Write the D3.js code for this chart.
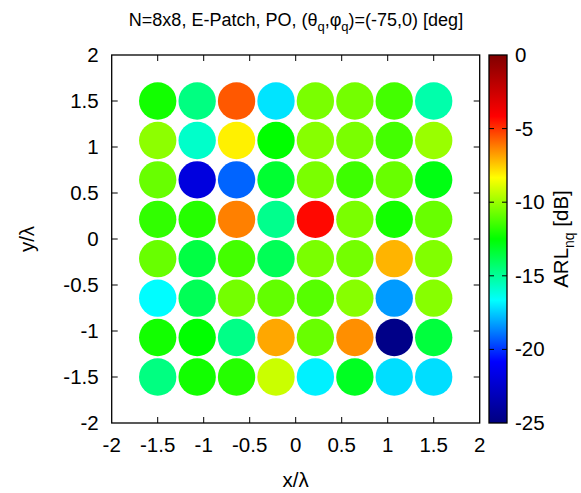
<!DOCTYPE html>
<html>
<head>
<meta charset="utf-8">
<script src="https://cdn.jsdelivr.net/npm/d3@7"></script>
<style>
  body { margin: 0; background: #fff; }
  svg { font-family: "Liberation Sans", Arial, sans-serif; }
</style>
</head>
<body>
<div id="chart"></div>
<script>
var WIDTH = 581;
var HEIGHT = 493;

// element positions (x/lambda, y/lambda), 8 per axis
var xPositions = [-1.5, -1.071, -0.643, -0.214, 0.214, 0.643, 1.071, 1.5];
var yPositions = [1.5, 1.071, 0.643, 0.214, -0.214, -0.643, -1.071, -1.5];

// ARL_nq [dB], one row per y position, top row first
var row1 = [-12.2, -14.6, -5.6, -17.1, -10.5, -10.6, -11.4, -15.3];
var row2 = [-10.2, -15.8, -8.1, -12.5, -10.3, -10.5, -11.4, -10.0];
var row3 = [-10.8, -21.9, -19.2, -13.3, -10.5, -11.5, -10.8, -12.8];
var row4 = [-11.7, -11.9, -6.25, -14.8, -4.3, -10.5, -12.2, -10.8];
var row5 = [-10.8, -13.6, -11.4, -13.9, -10.5, -10.6, -7.1, -10.4];
var row6 = [-16.7, -13.9, -10.6, -10.9, -11.1, -10.3, -18.3, -10.3];
var row7 = [-12.2, -12.5, -14.7, -6.9, -10.8, -6.5, -24.75, -13.5];
var row8 = [-14.6, -12.2, -11.9, -9.2, -16.9, -13.05, -17.2, -17.2];
var rows = [row1, row2, row3, row4, row5, row6, row7, row8];

var axisTicks = [-2, -1.5, -1, -0.5, 0, 0.5, 1, 1.5, 2];
var cbTicks = [0, -5, -10, -15, -20, -25];
var elementRadius = 0.203;

var cells = [];
rows.forEach(function(r, j) {
  r.forEach(function(v, i) {
    cells.push({ x: xPositions[i], y: yPositions[j], v: v });
  });
});

var plot = { left: 111.7, right: 479.7, top: 55, bottom: 423 };
var cb = { left: 489, right: 507 };

var x = d3.scaleLinear().domain([-2, 2]).range([plot.left, plot.right]);
var y = d3.scaleLinear().domain([-2, 2]).range([plot.bottom, plot.top]);
var cbY = d3.scaleLinear().domain([-25, 0]).range([plot.bottom, plot.top]);

// rainbow palette: dark blue, blue, cyan, green, yellow, red, dark red
var palette = d3.scaleLinear()
  .domain([0, 1/6, 2/6, 3/6, 4/6, 5/6, 1].map(function(t) { return -25 + 25 * t; }))
  .range(['#000080', '#0000ff', '#00ffff', '#00ff00', '#ffff00', '#ff0000', '#800000'])
  .interpolate(d3.interpolateRgb)
  .clamp(true);

var svg = d3.select('#chart').append('svg')
  .attr('width', WIDTH)
  .attr('height', HEIGHT);

// circles
svg.append('g').selectAll('circle')
  .data(cells)
  .enter().append('circle')
    .attr('cx', function(d) { return x(d.x); })
    .attr('cy', function(d) { return y(d.y); })
    .attr('r', x(elementRadius) - x(0))
    .attr('fill', function(d) { return palette(d.v); });

// frame
svg.append('rect')
  .attr('x', plot.left).attr('y', plot.top)
  .attr('width', plot.right - plot.left).attr('height', plot.bottom - plot.top)
  .attr('fill', 'none').attr('stroke', '#000').attr('stroke-width', 1.3);

// inward ticks on all four sides
var tickLen = 6;
var ticks = svg.append('g').attr('stroke', '#000').attr('stroke-width', 1);
axisTicks.slice(1, -1).forEach(function(t) {
  ticks.append('line').attr('x1', x(t)).attr('x2', x(t)).attr('y1', plot.bottom).attr('y2', plot.bottom - tickLen);
  ticks.append('line').attr('x1', x(t)).attr('x2', x(t)).attr('y1', plot.top).attr('y2', plot.top + tickLen);
  ticks.append('line').attr('y1', y(t)).attr('y2', y(t)).attr('x1', plot.left).attr('x2', plot.left + tickLen);
  ticks.append('line').attr('y1', y(t)).attr('y2', y(t)).attr('x1', plot.right).attr('x2', plot.right - tickLen);
});

// tick labels
svg.append('g').selectAll('text')
  .data(axisTicks)
  .enter().append('text')
    .attr('x', function(d) { return x(d); })
    .attr('y', plot.bottom + 29)
    .attr('text-anchor', 'middle')
    .attr('font-size', 20.5)
    .text(function(d) { return d; });

svg.append('g').selectAll('text')
  .data(axisTicks)
  .enter().append('text')
    .attr('x', plot.left - 13)
    .attr('y', function(d) { return y(d) + 7; })
    .attr('text-anchor', 'end')
    .attr('font-size', 20.5)
    .text(function(d) { return d; });

// axis labels
svg.append('text')
  .attr('x', x(0)).attr('y', 487)
  .attr('text-anchor', 'middle').attr('font-size', 20.5)
  .text('x/λ');

svg.append('text')
  .attr('transform', 'translate(34,' + y(0) + ') rotate(-90)')
  .attr('text-anchor', 'middle').attr('font-size', 20.5)
  .text('y/λ');

// title
var title = svg.append('text')
  .attr('x', 296).attr('y', 26)
  .attr('text-anchor', 'middle').attr('font-size', 18);
title.append('tspan').text('N=8x8, E-Patch, PO, (θ');
title.append('tspan').attr('font-size', 13).attr('dy', 5).text('q');
title.append('tspan').attr('dy', -5).text(',φ');
title.append('tspan').attr('font-size', 13).attr('dy', 5).text('q');
title.append('tspan').attr('dy', -5).text(')=(-75,0) [deg]');

// colorbar
var grad = svg.append('defs').append('linearGradient')
  .attr('id', 'cbgrad')
  .attr('x1', 0).attr('y1', 1).attr('x2', 0).attr('y2', 0);
d3.range(0, 61).forEach(function(i) {
  var v = -25 + 25 * i / 60;
  grad.append('stop').attr('offset', (i / 60 * 100) + '%').attr('stop-color', palette(v));
});

svg.append('rect')
  .attr('x', cb.left).attr('y', plot.top)
  .attr('width', cb.right - cb.left).attr('height', plot.bottom - plot.top)
  .attr('fill', 'url(#cbgrad)')
  .attr('stroke', '#000').attr('stroke-width', 1.3);

svg.append('g').selectAll('line')
  .data(cbTicks.slice(1, -1))
  .enter().append('line')
    .attr('x1', cb.left).attr('x2', cb.right)
    .attr('y1', function(d) { return cbY(d); })
    .attr('y2', function(d) { return cbY(d); })
    .attr('stroke', '#000').attr('stroke-width', 1)
    .attr('stroke-dasharray', '5,8');

svg.append('g').selectAll('text')
  .data(cbTicks)
  .enter().append('text')
    .attr('x', cb.right + 8)
    .attr('y', function(d) { return cbY(d) + 7; })
    .attr('font-size', 20.5)
    .text(function(d) { return d; });

var cbLabel = svg.append('text')
  .attr('transform', 'translate(568,' + y(0) + ') rotate(-90)')
  .attr('text-anchor', 'middle').attr('font-size', 20.5);
cbLabel.append('tspan').text('ARL');
cbLabel.append('tspan').attr('font-size', 14).attr('dy', 6).text('nq');
cbLabel.append('tspan').attr('dy', -6).text(' [dB]');
</script>
</body>
</html>
